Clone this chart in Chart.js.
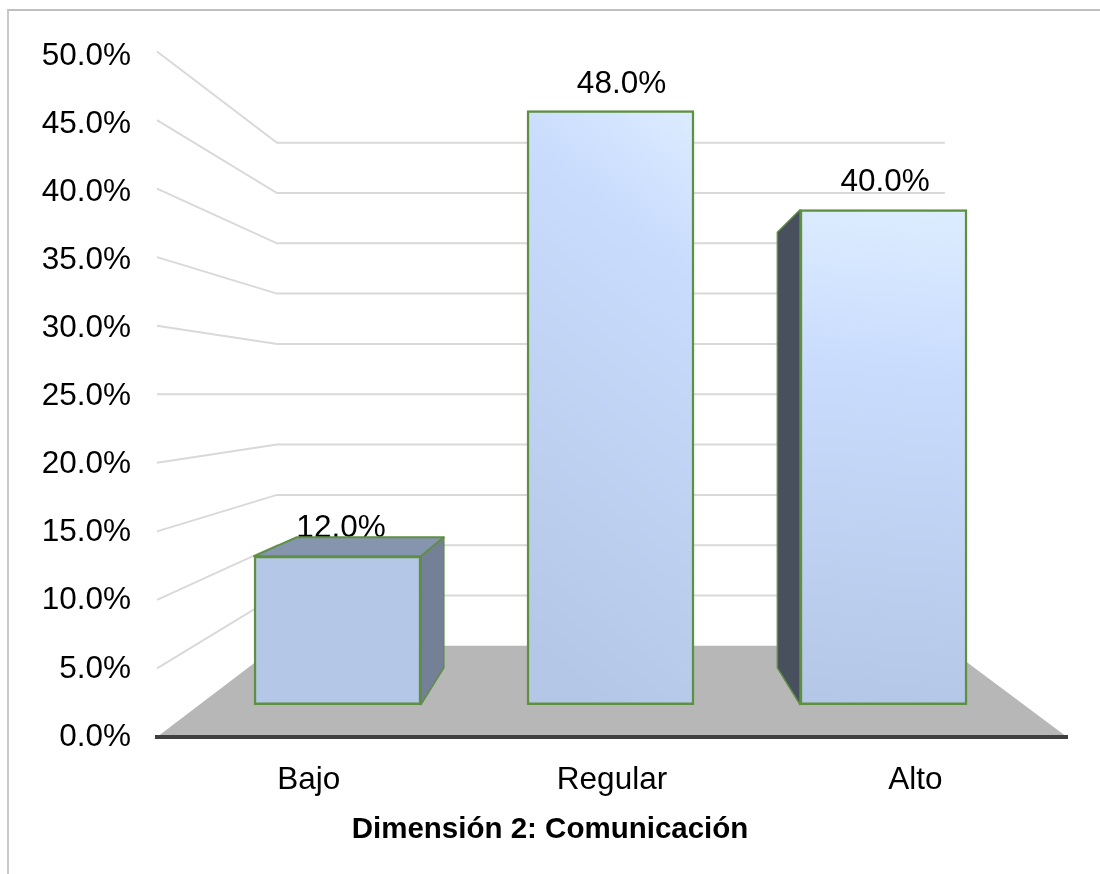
<!DOCTYPE html>
<html>
<head>
<meta charset="utf-8">
<style>
html,body{margin:0;padding:0;background:#fff;width:1100px;height:874px;overflow:hidden}
#frame{position:absolute;left:7px;top:9px;right:0;bottom:0;border-top:2px solid #bfbfbf;border-left:2px solid #c8c8c8}
canvas{position:absolute;left:0;top:0}
</style>
<script src="https://cdn.jsdelivr.net/npm/chart.js@4/dist/chart.umd.min.js"></script>
</head>
<body>
<div id="frame"></div>
<canvas id="c" width="1100" height="874"></canvas>
<script>
const categories = ['Bajo', 'Regular', 'Alto'];
const values = [12, 48, 40];
const valueLabels = ['12.0%', '48.0%', '40.0%'];
const tickValues = [0, 5, 10, 15, 20, 25, 30, 35, 40, 45, 50];
const axisTitle = 'Dimensión 2: Comunicación';

const FONT = '"Liberation Sans", Arial, sans-serif';
const WALL = {vx: 608, vy: 394.25, f: 0.266};
const BAR = {vx: 611, vy: 398, f: 0.12};
const LABEL_NUDGE = [[3.5, -28], [11, -26], [1.5, -27]];
const project = (v, x, y) => [x + v.f * (v.vx - x), y + v.f * (v.vy - y)];
const poly = (c, pts, fill, stroke, lw) => {
  c.beginPath();
  pts.forEach((p, i) => i ? c.lineTo(p[0], p[1]) : c.moveTo(p[0], p[1]));
  c.closePath();
  c.fillStyle = fill; c.fill();
  if (stroke) { c.strokeStyle = stroke; c.lineWidth = lw; c.lineJoin = 'round'; c.stroke(); }
};

const scene = {
  id: 'scene',
  beforeDraw(chart) {
    const c = chart.ctx, a = chart.chartArea, ys = chart.scales.yg;
    c.save();
    const bl = [a.left, a.bottom], br = [a.right, a.bottom];
    poly(c, [bl, br, project(WALL, a.right, a.bottom), project(WALL, a.left, a.bottom)], '#b7b7b7');
    c.strokeStyle = '#d9d9d9';
    c.lineWidth = 2;
    tickValues.forEach(v => {
      if (v === 0) return;
      const y = ys.getPixelForValue(v);
      const p = project(WALL, a.left, y), q = project(WALL, a.right, y);
      c.beginPath();
      c.moveTo(a.left, y);
      c.lineTo(p[0], p[1]);
      c.lineTo(q[0], p[1]);
      c.stroke();
    });
    c.restore();
  },
  beforeDatasetsDraw(chart) {
    const c = chart.ctx;
    c.save();
    const meta = chart.getDatasetMeta(0);
    c.font = '31.5px ' + FONT;
    c.fillStyle = '#000';
    c.textAlign = 'center';
    c.textBaseline = 'middle';
    meta.data.forEach((b, i) => {
      c.fillText(valueLabels[i], b.x + LABEL_NUDGE[i][0], b.y + LABEL_NUDGE[i][1]);
    });
    const edge = '#5f8f41';
    meta.data.forEach(b => {
      const l = b.x - b.width / 2, r = b.x + b.width / 2, t = b.y, u = b.base;
      const tlB = project(BAR, l, t), trB = project(BAR, r, t), blB = project(BAR, l, u), brB = project(BAR, r, u);
      if (tlB[1] < t) poly(c, [[l, t], tlB, trB, [r, t]], '#8595ad', edge, 2);
      if (trB[0] > r) poly(c, [[r, t], trB, brB, [r, u]], '#748096', edge, 1.5);
      if (tlB[0] < l) poly(c, [[l, t], tlB, blB, [l, u]], '#484f5d', edge, 1.5);
    });
    c.restore();
  },
  afterDraw(chart) {
    const c = chart.ctx;
    c.save();
    c.font = 'bold 29.5px ' + FONT;
    c.fillStyle = '#000';
    c.textAlign = 'center';
    c.textBaseline = 'alphabetic';
    c.fillText(axisTitle, 550, 838);
    c.restore();
  }
};

function barFill(ctx) {
  const i = ctx.dataIndex, ch = ctx.chart, xs = ch.scales.x2, ys = ch.scales.y2;
  if (i === 0 || !ch.chartArea || !xs || !ys) return '#b4c7e7';
  const xc = xs.getPixelForValue(i), top = ys.getPixelForValue(values[i]), bot = ys.getPixelForValue(0);
  if (!isFinite(xc) || !isFinite(top) || !isFinite(bot)) return '#b4c7e7';
  if (i === 1) {
    const g = ch.ctx.createLinearGradient(xc + 82, top, xc + 82 - 325, top + 406);
    g.addColorStop(0, '#dcecff');
    g.addColorStop(0.24, '#c9dcfd');
    g.addColorStop(1, '#b4c7e7');
    return g;
  }
  const g = ch.ctx.createLinearGradient(xc + 20, top, xc - 20, bot);
  g.addColorStop(0, '#dcecff');
  g.addColorStop(0.32, '#c9dcfd');
  g.addColorStop(1, '#b4c7e7');
  return g;
}

new Chart(document.getElementById('c'), {
  type: 'bar',
  data: {
    labels: categories,
    datasets: [{
      data: values.map((v, i) => ({x: i, y: v})),
      xAxisID: 'x2',
      yAxisID: 'y2',
      barThickness: 167,
      backgroundColor: barFill,
      borderColor: '#5f8f41',
      borderWidth: 2.5,
      borderSkipped: false
    }]
  },
  plugins: [scene],
  options: {
    responsive: false,
    animation: false,
    layout: {padding: {left: 0, right: 33, top: 51.5, bottom: 0}},
    plugins: {legend: {display: false}, tooltip: {enabled: false}, title: {display: false}},
    scales: {
      x: {
        type: 'category',
        offset: true,
        position: 'bottom',
        grid: {display: false, drawTicks: false},
        border: {display: true, color: '#404040', width: 4},
        ticks: {color: '#000', font: {family: FONT, size: 31.5}, padding: 24, maxRotation: 0},
        afterFit(s) { s.height = 137; }
      },
      y: {
        type: 'linear',
        position: 'left',
        min: 0,
        max: 50.33,
        grid: {display: false, drawTicks: false},
        border: {display: false},
        ticks: {autoSkip: false, color: '#000', font: {family: FONT, size: 31.5}, padding: 26, callback: v => v.toFixed(1) + '%'},
        afterBuildTicks(s) { s.ticks = tickValues.map(v => ({value: v})); },
        afterFit(s) { s.width = 157; }
      },
      yg: {type: 'linear', display: false, position: 'left', min: 0, max: 50},
      x2: {type: 'linear', display: false, offset: false, position: 'bottom', min: -0.6612, max: 2.672, grid: {offset: false}},
      y2: {type: 'linear', display: false, position: 'left', min: -2.61, max: 52.78}
    }
  }
});
</script>
</body>
</html>
